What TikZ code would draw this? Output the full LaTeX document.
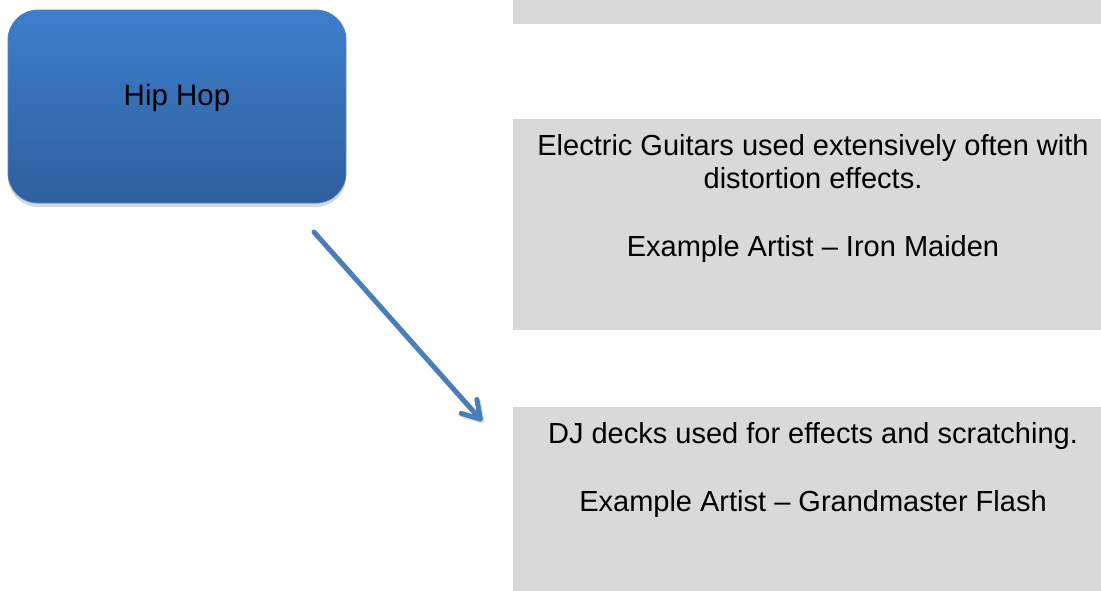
\documentclass[tikz,border=0pt]{standalone}
\usepackage{fontspec}
\setmainfont{Liberation Sans}
\usetikzlibrary{arrows.meta,shadows}
\definecolor{boxgray}{RGB}{217,217,217}
\definecolor{bluetop}{RGB}{61,126,203}
\definecolor{bluebot}{RGB}{47,95,158}
\definecolor{blueedge}{RGB}{79,129,189}
\definecolor{arrowblue}{RGB}{74,126,187}
\tikzset{
  graybox/.style={draw=none, fill=boxgray, rectangle, anchor=north west, inner sep=0pt},
  bluebox/.style={rectangle, rounded corners=30pt, draw=blueedge, line width=0.8pt,
    top color=bluetop, bottom color=bluebot, inner sep=0pt,
    drop shadow={shadow xshift=0pt, shadow yshift=-4pt, opacity=0.25, fill=black!60}},
  bodytext/.style={font=\fontsize{29}{33}\selectfont, text=black, anchor=base, inner sep=0pt},
  hiptext/.style={font=\fontsize{29.5}{34}\selectfont, text=black, anchor=base, inner sep=0pt},
  flow/.style={draw=arrowblue, line width=5pt, line cap=round,
    -{Straight Barb[length=17pt,width=21pt,line cap=round,line join=round]}},
}
\begin{document}
\begin{tikzpicture}[x=1pt,y=-1pt]
\useasboundingbox (0,0) rectangle (1101,590);
\fill[white] (0,0) rectangle (1101,590);
\begin{scope}
\clip (0,0) rectangle (1101,590);
% gray boxes
\node[graybox, minimum width=600pt, minimum height=40pt] (g1) at (513,-16) {};
\node[graybox, minimum width=600pt, minimum height=211pt] (g2) at (513,119) {};
\node[graybox, minimum width=600pt, minimum height=190pt] (g3) at (513,407) {};
\node[bodytext] (t21) at (813,155.5) {Electric Guitars used extensively often with};
\node[bodytext] (t22) at (813,188) {distortion effects.};
\node[bodytext] (t23) at (813,256) {Example Artist – Iron Maiden};
\node[bodytext] (t31) at (813,443) {DJ decks used for effects and scratching.};
\node[bodytext] (t32) at (813,511) {Example Artist – Grandmaster Flash};
\end{scope}
% blue box
\node[bluebox, minimum width=338pt, minimum height=193pt] (hip) at (177,106.5) {};
\node[hiptext] (hiplabel) at (177,105) {Hip Hop};
% arrow
\coordinate (a1) at (314,232);
\coordinate (a2) at (482,421);
\draw[flow, draw=black, opacity=0.12, transform canvas={xshift=1.5pt,yshift=-2pt}] (a1) -- (a2);
\draw[flow] (a1) -- (a2);
\end{tikzpicture}
\end{document}
